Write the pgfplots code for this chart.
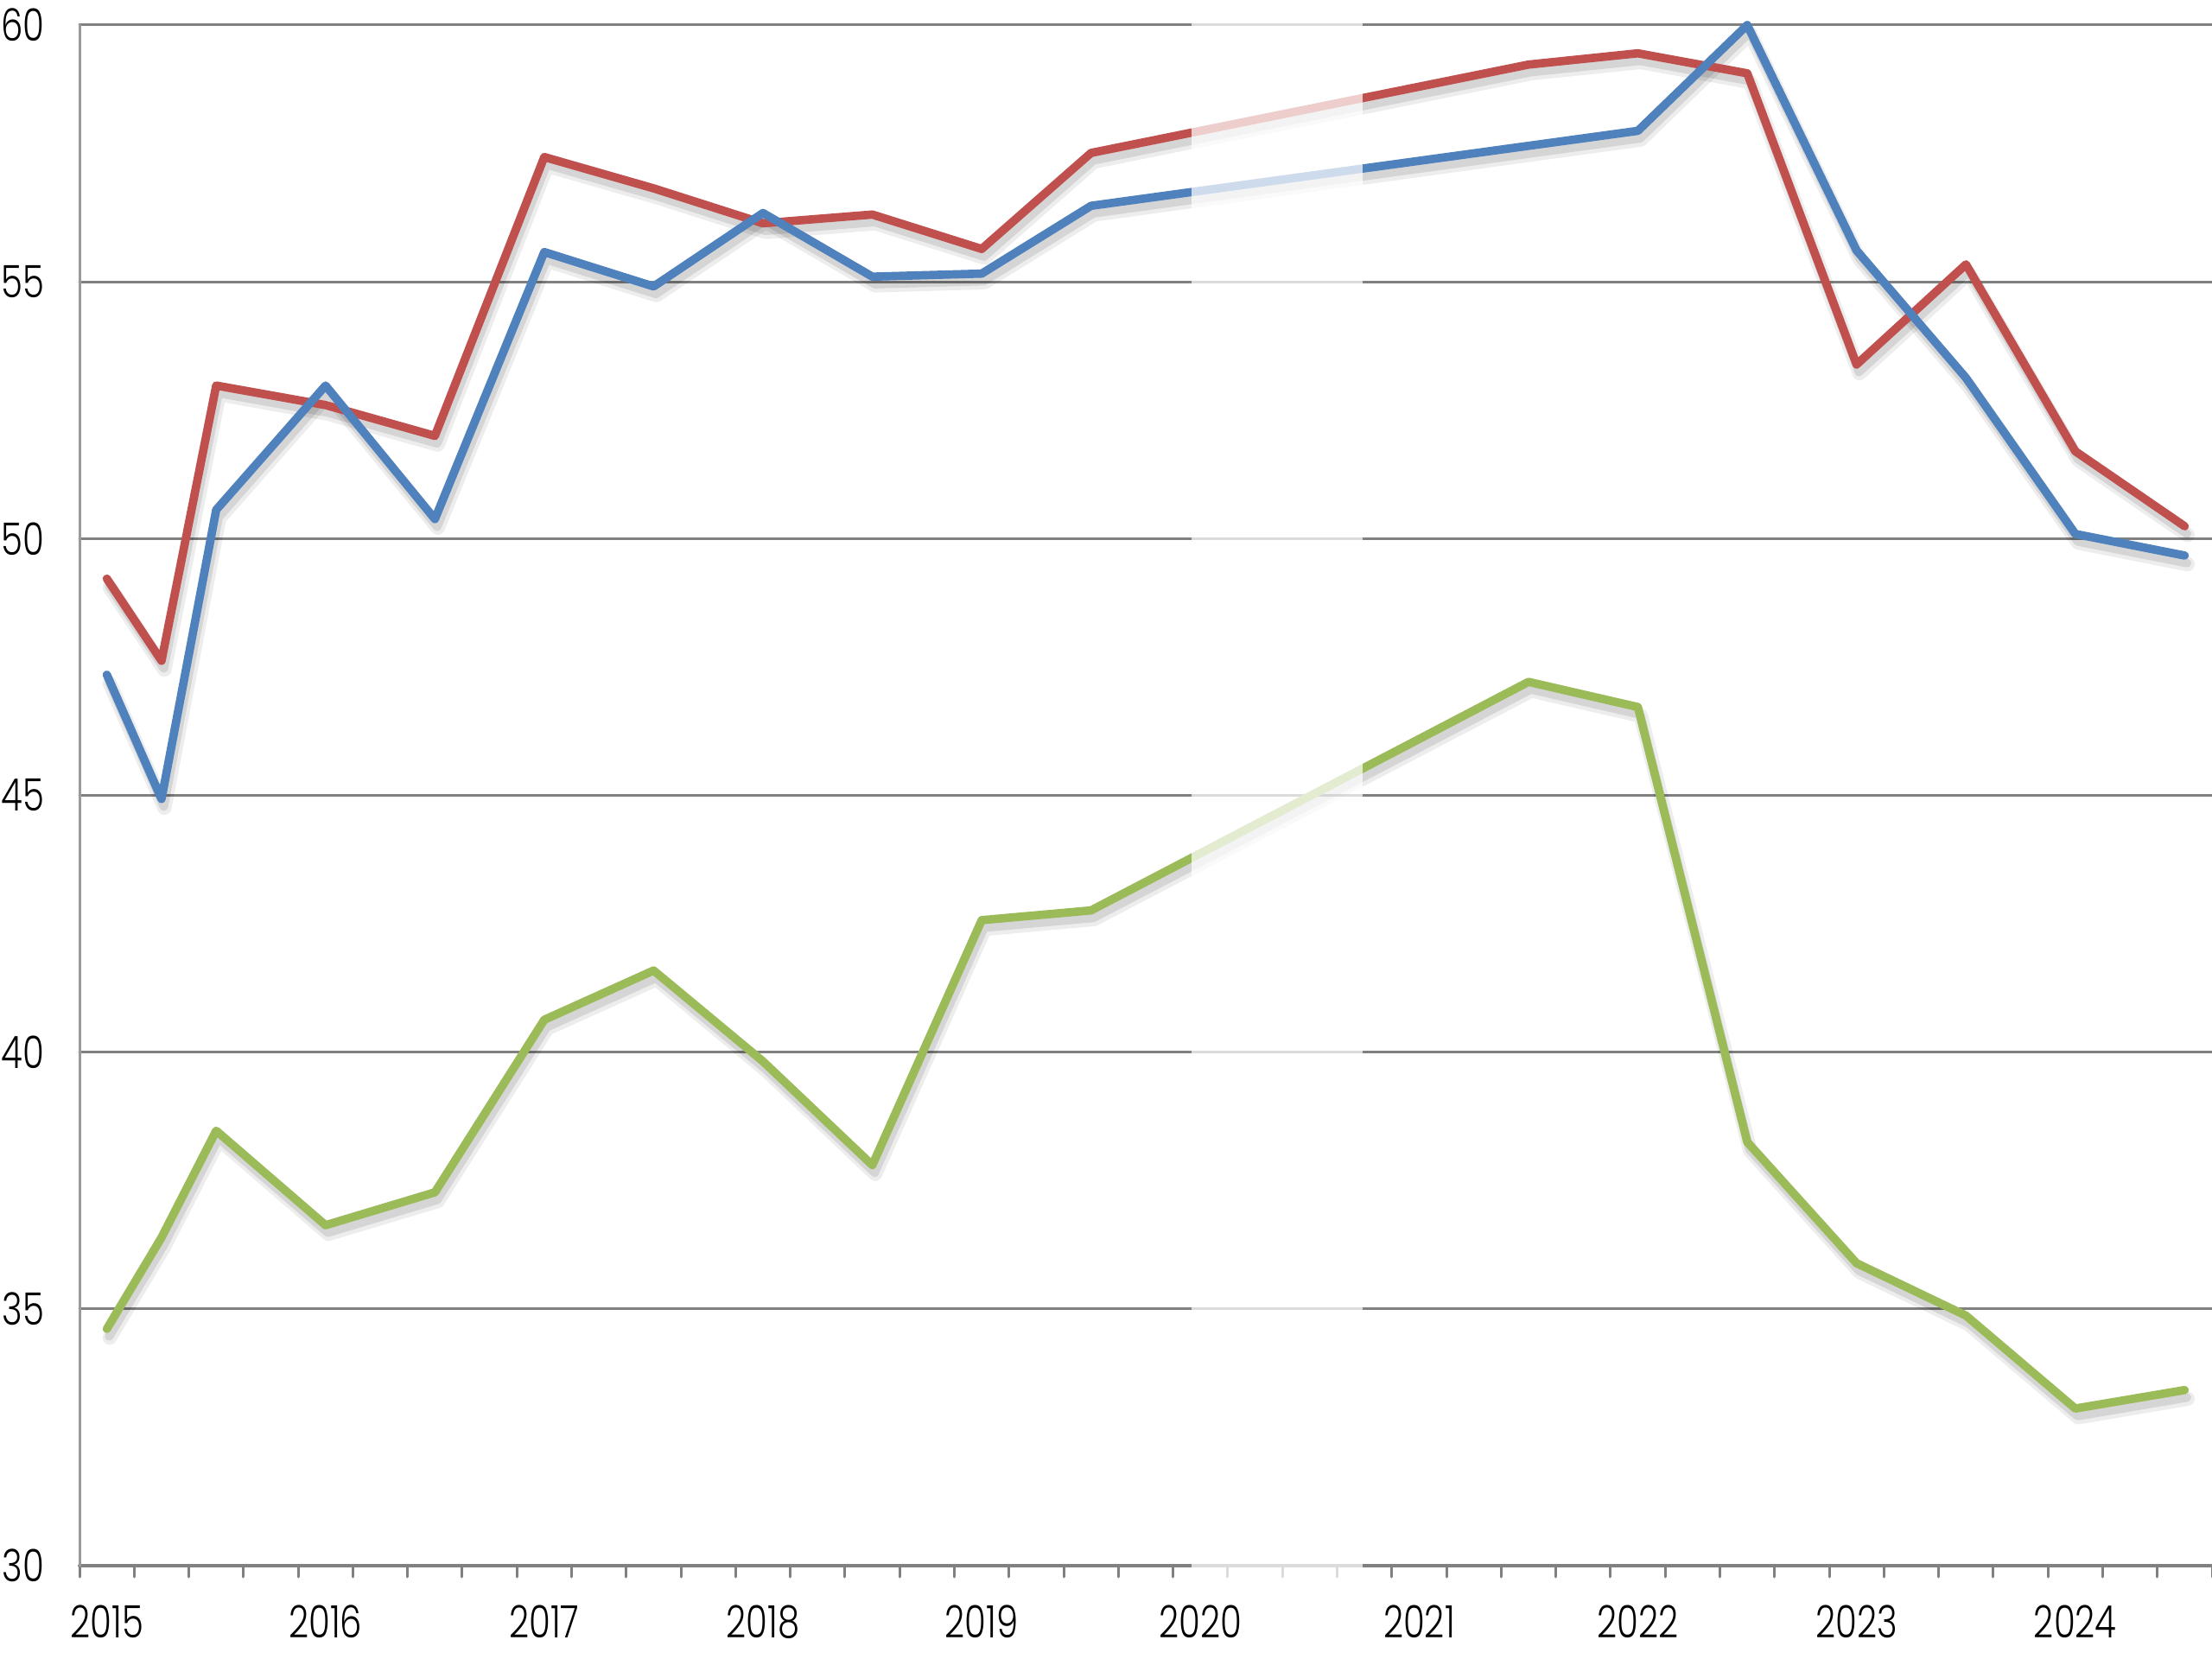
\documentclass[border=0pt]{standalone}
\usepackage{fontspec}
\setmainfont{Poppins}[UprightFont=* Light, FakeStretch=0.78]
\usepackage{pgfplots}
\pgfplotsset{compat=1.18}
\usepackage{pgfplotstable}

\definecolor{cred}{HTML}{C0504D}
\definecolor{cblue}{HTML}{4F81BD}
\definecolor{cgreen}{HTML}{9BBB59}
\definecolor{cgrid}{HTML}{808080}

\pgfplotstableread{
x y
0 49.22
1 47.62
2 52.98
4 52.60
6 52.00
8 57.43
10 56.82
12 56.14
14 56.31
16 55.64
18 57.51
26 59.23
28 59.45
30 59.06
32 53.39
34 55.34
36 51.70
38 50.24
}\redtab

\pgfplotstableread{
x y
0 47.35
1 44.93
2 50.56
4 52.98
6 50.38
8 55.58
10 54.91
12 56.34
14 55.10
16 55.16
18 56.48
28 57.94
30 60.00
32 55.61
34 53.13
36 50.09
38 49.67
}\bluetab

\pgfplotstableread{
x y
0 34.61
1 36.39
2 38.47
4 36.63
6 37.27
8 40.63
10 41.59
12 39.82
14 37.80
16 42.57
18 42.76
26 47.21
28 46.72
30 38.25
32 35.89
34 34.87
36 33.06
38 33.42
}\greentab

\begin{document}
\begin{tikzpicture}
\begin{axis}[
  at={(0,0)}, anchor=south west,
  scale only axis, width=740.4bp, height=534.9bp,
  xmin=-0.5, xmax=38.5, ymin=30, ymax=60,
  clip=false,
  axis x line*=bottom, axis y line*=left,
  axis line style={-},
  x axis line style={cgrid, line width=1.2bp},
  y axis line style={cgrid!80, line width=0.9bp},
  ytick={30,35,...,60},
  ymajorgrids,
  major grid style={cgrid, line width=0.9bp},
  xtick={-0.5,0.5,...,38.5},
  xticklabels={2015,,,,2016,,,,2017,,,,2018,,,,2019,,,,2020,,,,2021,,,,2022,,,,2023,,,,2024},
  tick align=outside,
  major tick length=3.9bp,
  x tick style={cgrid, line width=0.9bp},
  y tick style={draw=none},
  /pgf/number format/assume math mode=true,
  tick label style={font=\fontsize{15.5bp}{18bp}\selectfont, text=black},
  xticklabel style={anchor=north, inner sep=0pt, xshift=9.49bp, yshift=-9.6bp},
  yticklabel style={anchor=east, inner sep=0pt, xshift=-8.1bp},
  line join=round, line cap=round,
]
% shadows
\addplot[draw=black, opacity=0.07, line width=5bp, xshift=1bp, yshift=-3bp] table {\redtab};
\addplot[draw=black, opacity=0.07, line width=5bp, xshift=1bp, yshift=-3bp] table {\bluetab};
\addplot[draw=black, opacity=0.07, line width=5bp, xshift=1bp, yshift=-3bp] table {\greentab};
\addplot[draw=black, opacity=0.10, line width=3bp, xshift=0.8bp, yshift=-2.6bp] table {\redtab};
\addplot[draw=black, opacity=0.10, line width=3bp, xshift=0.8bp, yshift=-2.6bp] table {\bluetab};
\addplot[draw=black, opacity=0.10, line width=3bp, xshift=0.8bp, yshift=-2.6bp] table {\greentab};
% series
\addplot[draw=cred, line width=2.9bp] table {\redtab};
\addplot[draw=cblue, line width=2.9bp] table {\bluetab};
\addplot[draw=cgreen, line width=2.9bp] table {\greentab};
% faded band
\fill[white, opacity=0.72] (axis cs:19.84,60.3) rectangle (axis cs:22.97,29.66);
\end{axis}
\pgfresetboundingbox
\path[use as bounding box] (-27.6bp,-32.4bp) rectangle (740.4bp,543.6bp);
\end{tikzpicture}
\end{document}
